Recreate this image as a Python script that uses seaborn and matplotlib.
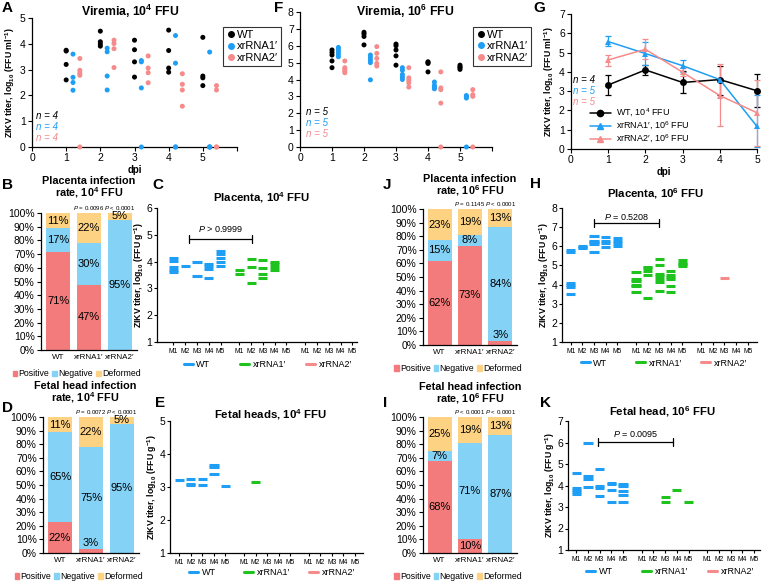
import numpy as np
import pandas as pd
import matplotlib

matplotlib.use("Agg")
import matplotlib.pyplot as plt
from matplotlib.lines import Line2D
from matplotlib.patches import Patch
from matplotlib.legend import Legend
import seaborn as sns

sns.set_theme(style="ticks")
plt.rcParams["font.family"] = ["Liberation Sans", "DejaVu Sans"]
plt.rcParams.update({
    "mathtext.fontset": "custom",
    "mathtext.rm": "Liberation Sans",
    "mathtext.it": "Liberation Sans:italic",
    "mathtext.bf": "Liberation Sans:bold",
    "text.color": "black",
    "axes.labelcolor": "black",
    "xtick.color": "black",
    "ytick.color": "black",
    "axes.edgecolor": "black",
    "axes.linewidth": 0.9,
})

# -------------------------
# Colours
# -------------------------
BLUE = "#1f9ef5"
PINK = "#f58b8b"
GREEN = "#1ec31e"
POS_C = "#f47b7b"
NEG_C = "#84d2f6"
DEF_C = "#fdd383"

GROUPS = ["WT", "xrRNA1\u2032", "xrRNA2\u2032"]
VIR_PAL = {"WT": "black", "xrRNA1\u2032": BLUE, "xrRNA2\u2032": PINK}
DASH_PAL = {"WT": BLUE, "xrRNA1\u2032": GREEN, "xrRNA2\u2032": PINK}

# -------------------------
# Data: viremia (per day lists)
# -------------------------
vir4_wt = [[3.75, 3.72, 3.2, 2.6], [4.49, 4.08, 3.99, 3.91], [4.14, 3.77, 3.3, 2.71],
           [4.53, 3.74, 3.06, 2.9], [4.25, 2.75, 2.68, 2.38]]
vir4_x1 = [[3.6, 2.7, 2.5, 2.2], [3.83, 3.69, 2.75, 2.21], [3.35, 3.3, 2.29, 0],
           [4.32, 3.25, 0, 0], [3.68, 0, 0, 0]]
vir4_x2 = [[3.43, 2.97, 2.86, 2.78, 0], [4.14, 4.01, 3.81, 3.08], [3.53, 3.06, 2.88, 2.49],
           [2.84, 2.43, 2.21, 1.58], [2.38, 2.21, 0, 0]]

vir6_wt = [[5.75, 5.6, 5.45, 5.1, 4.7], [6.8, 6.7, 6.55, 6.05], [6.1, 6.0, 5.75, 5.4, 4.85],
           [5.05, 5.0, 4.95, 4.45], [4.85, 4.75, 4.7, 4.6]]
vir6_x1 = [[5.9, 5.8, 5.65, 5.5, 5.35], [5.45, 5.3, 5.15, 5.0, 3.98], [4.7, 4.55, 4.3, 4.15, 4.0],
           [3.85, 3.65, 3.55, 3.5, 3.45], [3.05, 3.0, 2.95, 2.9, 0]]
vir6_x2 = [[5.1, 4.7, 4.6, 4.5, 4.4], [5.95, 5.55, 5.25, 4.95, 4.8], [4.7, 4.1, 3.95, 3.8, 3.55],
           [4.45, 3.5, 3.4, 2.6, 0], [3.4, 3.1, 3.0, 0]]

# mean titer with lower / upper error
g_days = [1, 2, 3, 4, 5]
g_wt_mean = [3.32, 4.1, 3.45, 3.6, 3.02]
g_wt_lo = [0.52, 0.26, 0.57, 0.78, 0.83]
g_wt_hi = [0.52, 0.26, 0.6, 0.72, 0.87]
g_x1_mean = [5.57, 4.95, 4.32, 3.6, 1.17]
g_x1_lo = [0.25, 0.6, 0.32, 0.05, 1.05]
g_x1_hi = [0.28, 0.6, 0.3, 0.05, 1.65]
g_x2_mean = [4.62, 5.17, 3.98, 2.77, 1.88]
g_x2_lo = [0.3, 0.5, 0.18, 1.6, 1.7]
g_x2_hi = [0.27, 0.52, 0.2, 1.65, 1.72]

# -------------------------
# Data: infection rates (%)
# -------------------------
BAR_CATS = ["WT", "xrRNA1\u2032", "xrRNA2\u2032"]
plac4_pos, plac4_neg, plac4_def = [71, 47, 0], [17, 30, 95], [11, 22, 5]
head4_pos, head4_neg, head4_def = [22, 3, 0], [65, 75, 95], [11, 22, 5]
plac6_pos, plac6_neg, plac6_def = [62, 73, 3], [15, 8, 84], [23, 19, 13]
head6_pos, head6_neg, head6_def = [68, 10, 0], [7, 71, 87], [25, 19, 13]
plac4_p = ["= 0.0096", "< 0.0001"]
head4_p = ["= 0.0072", "< 0.0001"]
plac6_p = ["= 0.1145", "< 0.0001"]
head6_p = ["< 0.0001", "< 0.0001"]

# -------------------------
# Data: tissue titers per mouse (M1..M5)
# -------------------------
plac4_wt = [[4.12, 4.02, 3.8, 3.7, 3.6], [3.84], [4.0, 3.46], [3.9, 3.82, 3.74, 3.37],
            [4.4, 4.29, 4.12, 4.0, 3.84]]
plac4_x1 = [[3.69, 3.54], [4.09, 3.79, 3.21], [4.05, 3.75, 3.55, 3.4], [3.98, 3.9, 3.8, 3.7], []]
plac4_x2 = [[], [], [], [], []]

head4_wt = [[3.22], [3.24, 3.1, 3.05], [3.24, 3.05], [3.67, 3.62, 3.4], [3.04]]
head4_x1 = [[], [3.14], [], [], []]
head4_x2 = [[], [], [], [], []]

plac6_wt = [[5.78, 5.7, 4.1, 4.0, 3.88, 3.5], [6.0, 5.95, 5.9], [6.55, 6.3, 6.2, 6.1, 5.7],
            [6.5, 6.3, 6.15, 5.95], [6.42, 6.28, 6.15, 6.0]]
plac6_x1 = [[4.65, 4.3, 4.2, 4.0, 3.9, 3.6], [4.92, 4.85, 4.7, 4.5, 3.3],
            [5.32, 5.0, 4.55, 4.45, 4.3, 4.15, 3.68], [4.72, 4.5, 4.4, 4.3, 3.9, 3.6],
            [5.28, 5.15, 5.05, 4.95]]
plac6_x2 = [[], [], [4.35], [], []]

head6_wt = [[4.57, 3.9, 3.8, 3.72, 3.62], [5.97, 4.45, 4.28, 3.92], [4.75, 3.98, 3.88, 3.5],
            [4.12, 4.05, 3.8, 3.25], [4.05, 3.97, 3.75, 3.58, 3.25]]
head6_x1 = [[], [], [3.47, 3.22], [3.77], [3.22]]
head6_x2 = [[], [], [], [], []]

MICE = ["M1", "M2", "M3", "M4", "M5"]
GROUP_POS = [0.0, 5.6, 11.2]

# -------------------------
# Figure helpers
# -------------------------
W, H = 763, 583
fig = plt.figure(figsize=(W / 100, H / 100), dpi=100)


def add_ax(l, t, r, b):
    return fig.add_axes([l / W, 1 - b / H, (r - l) / W, (b - t) / H])


def ftext(x, y, s, **kw):
    fig.text(x / W, 1 - y / H, s, **kw)


def finish(ax, fs=7.5):
    sns.despine(ax=ax)
    ax.tick_params(length=3, width=0.8, labelsize=fs, pad=1.5)
    ax.set_xlabel("")
    ax.set_ylabel("")


YLAB_ML = r"ZIKV titer, log$_{\mathbf{10}}$ (FFU ml$^{\mathbf{-1}}$)"
YLAB_G = r"ZIKV titer, log$_{\mathbf{10}}$ (FFU g$^{\mathbf{-1}}$)"


def viremia(ax, vals, ymax, ns, leg_xy, n_xy):
    rows = []
    for g, v, off in zip(GROUPS, vals, [0, 0.2, 0.4]):
        for d, dv in enumerate(v, start=1):
            rows += [(g, d + off, y) for y in dv]
    df = pd.DataFrame(rows, columns=["group", "dpi", "titer"])
    sns.scatterplot(data=df, x="dpi", y="titer", hue="group", hue_order=GROUPS,
                    palette=VIR_PAL, s=13, linewidth=0, legend=False,
                    clip_on=False, zorder=3, ax=ax)
    ax.set_xlim(0, 6)
    ax.set_ylim(0, ymax)
    ax.set_xticks(range(7))
    ax.set_xticklabels([str(i) for i in range(6)] + [""])
    ax.set_yticks(range(ymax + 1))
    finish(ax)
    handles = [Line2D([], [], marker="o", ls="", color=VIR_PAL[g], markersize=4, label=g)
               for g in GROUPS]
    leg = ax.legend(handles=handles, loc="upper left", bbox_to_anchor=leg_xy,
                    frameon=True, fancybox=False, edgecolor="black", fontsize=8,
                    handletextpad=0.05, handlelength=1.0, borderpad=0.25,
                    labelspacing=0.15, borderaxespad=0)
    leg.get_frame().set_linewidth(0.8)
    step = 11.0 / (ax.get_position().height * H)
    for i, (n, g) in enumerate(zip(ns, GROUPS)):
        ax.text(n_xy[0], n_xy[1] - i * step, f"n = {n}", color=VIR_PAL[g],
                transform=ax.transAxes, fontsize=7, va="center", style="italic")


def bars(ax, pos, neg, dfm, pvals):
    pos, neg, dfm = (np.array(a, float) for a in (pos, neg, dfm))
    tot = pos + neg + dfm
    p, n, d = pos / tot * 100, neg / tot * 100, dfm / tot * 100
    for h, c in [(p + n + d, DEF_C), (p + n, NEG_C), (p, POS_C)]:
        sns.barplot(x=BAR_CATS, y=h, color=c, width=0.8, saturation=1,
                    linewidth=0, errorbar=None, ax=ax)
    for i in range(3):
        for b, h, lab in [(0, p[i], pos[i]), (p[i], n[i], neg[i]), (p[i] + n[i], d[i], dfm[i])]:
            if lab == 0:
                continue
            y = b + h / 2 if h >= 4.5 else b + h + 4
            ax.text(i, y, f"{lab:g}%", ha="center", va="center", fontsize=8)
    for i, pv in zip([1, 2], pvals):
        ax.text(i, 104, rf"$\it{{P}}$ {pv}", ha="center", va="center", fontsize=4.4,
                clip_on=False)
    ax.set_xlim(-0.55, 2.55)
    ax.set_ylim(0, 100)
    ax.set_yticks(range(0, 101, 10))
    ax.set_yticklabels([f"{t}%" for t in range(0, 101, 10)])
    finish(ax)
    ax.tick_params(axis="x", length=0, labelsize=5.8, pad=3)
    ax.tick_params(axis="y", labelsize=7.5)
    handles = [Patch(color=POS_C, label="Positive"), Patch(color=NEG_C, label="Negative"),
               Patch(color=DEF_C, label="Deformed")]
    ax.legend(handles=handles, loc="center", bbox_to_anchor=(0.37, -0.175), ncol=3,
              frameon=False, fontsize=6.3, handlelength=0.55, handleheight=0.6,
              handletextpad=0.12, columnspacing=0.35, borderaxespad=0, borderpad=0)


def dashes(ax, vals, ylim, xlim, bracket, ptext, lab_y):
    rows = []
    for g, v, base in zip(GROUPS, vals, GROUP_POS):
        for m, mv in enumerate(v):
            rows += [(g, base + m, y) for y in mv]
    df = pd.DataFrame(rows, columns=["group", "pos", "titer"])
    sns.scatterplot(data=df, x="pos", y="titer", hue="group", hue_order=GROUPS,
                    palette=DASH_PAL, marker="_", s=44, linewidth=2.2, legend=False, ax=ax)
    ticks = [b + m for b in GROUP_POS for m in range(5)]
    ax.set_xticks(ticks)
    ax.set_xticklabels(MICE * 3)
    ax.set_xlim(*xlim)
    ax.set_ylim(*ylim)
    ax.set_yticks(range(ylim[0], ylim[1] + 1))
    finish(ax)
    ax.tick_params(axis="x", labelsize=4.9, length=2.5, pad=2)
    ax.tick_params(axis="y", labelsize=7.5, length=2.5, pad=1)
    if bracket is not None:
        x1, x2, yb, yt = bracket
        tick = (ylim[1] - ylim[0]) * 0.03
        ax.plot([x1, x2], [yb, yb], color="black", lw=0.9)
        for xx in (x1, x2):
            ax.plot([xx, xx], [yb - tick, yb + tick], color="black", lw=0.9)
        ax.text((x1 + x2) / 2, yt, rf"$\it{{P}}$ {ptext}", ha="center", va="center",
                fontsize=6.5)
    for g, base in zip(GROUPS, GROUP_POS):
        leg = Legend(ax, [Line2D([], [], color=DASH_PAL[g], lw=2.2)], [g], loc="center",
                     bbox_to_anchor=(base + 2, lab_y), bbox_transform=ax.get_xaxis_transform(),
                     frameon=False, fontsize=6.5, handlelength=1.0, handletextpad=0.4,
                     borderpad=0, borderaxespad=0)
        ax.add_artist(leg)
    ax.set_ylabel(YLAB_G, fontsize=6.3, fontweight="bold", labelpad=0.5)


# -------------------------
# A / F: viremia scatter
# -------------------------
axA = add_ax(32, 18, 237, 147)
viremia(axA, [vir4_wt, vir4_x1, vir4_x2], 5, [4, 4, 4], (0.93, 0.93), (0.02, 0.24))
axA.set_ylabel(YLAB_ML, fontsize=6.3, fontweight="bold", labelpad=2)
axA.set_xlabel("dpi", fontsize=7, fontweight="bold", labelpad=1)

axF = add_ax(300, 12, 492, 147)
viremia(axF, [vir6_wt, vir6_x1, vir6_x2], 8, [5, 5, 5], (0.9, 0.89), (0.03, 0.26))

# -------------------------
# G: mean viremia
# -------------------------
axG = add_ax(571, 14, 757, 149)
g_labels = [r"WT, 10$^4$ FFU", "xrRNA1\u2032, 10$^6$ FFU", "xrRNA2\u2032, 10$^6$ FFU"]
g_df = pd.DataFrame({
    "dpi": g_days * 3,
    "titer": g_wt_mean + g_x1_mean + g_x2_mean,
    "group": sum([[l] * 5 for l in g_labels], []),
})
g_cols = ["black", BLUE, PINK]
for mean, lo, hi, c in zip([g_wt_mean, g_x1_mean, g_x2_mean], [g_wt_lo, g_x1_lo, g_x2_lo],
                           [g_wt_hi, g_x1_hi, g_x2_hi], g_cols):
    axG.errorbar(g_days, mean, yerr=[lo, hi], fmt="none", ecolor=c, elinewidth=0.9,
                 capsize=2.5, capthick=0.9, clip_on=False, zorder=2)
sns.lineplot(data=g_df, x="dpi", y="titer", hue="group", style="group", hue_order=g_labels,
             palette=g_cols, markers=["o", "^", "^"], dashes=False, markersize=5,
             markeredgewidth=0, linewidth=1.1, legend=False, ax=axG, clip_on=False, zorder=3)
axG.set_xlim(0, 5)
axG.set_ylim(0, 7)
axG.set_xticks(range(6))
axG.set_yticks(range(8))
finish(axG)
axG.set_ylabel(YLAB_ML, fontsize=6.3, fontweight="bold", labelpad=2)
axG.set_xlabel("dpi", fontsize=7, fontweight="bold", labelpad=1)
g_handles = [Line2D([], [], color=c, marker=m, markersize=4.5, lw=1.1, label=l)
             for c, m, l in zip(g_cols, ["o", "^", "^"], g_labels)]
axG.legend(handles=g_handles, loc="upper left", bbox_to_anchor=(0.1, 0.31), frameon=False,
           fontsize=6.5, handlelength=2.4, handletextpad=0.5, labelspacing=0.1,
           borderaxespad=0, borderpad=0)
for i, (n, c) in enumerate(zip([4, 5, 5], g_cols)):
    axG.text(0.01, 0.51 - i * 0.08, f"n = {n}", color=c, transform=axG.transAxes,
             fontsize=7, va="center", style="italic")

# -------------------------
# B / D / J / I: infection rate bars
# -------------------------
axB = add_ax(41, 213, 137, 350)
bars(axB, plac4_pos, plac4_neg, plac4_def, plac4_p)
axD = add_ax(43, 417, 139, 553)
bars(axD, head4_pos, head4_neg, head4_def, head4_p)
axJ = add_ax(423, 209, 517, 345)
bars(axJ, plac6_pos, plac6_neg, plac6_def, plac6_p)
axI = add_ax(423, 417, 517, 553)
bars(axI, head6_pos, head6_neg, head6_def, head6_p)

# -------------------------
# C / E / H / K: tissue titers
# -------------------------
axC = add_ax(157, 208, 357, 342)
dashes(axC, [plac4_wt, plac4_x1, plac4_x2], (1, 6), (-1.4, 15.6), (1.3, 6.7, 4.85, 5.2),
       "> 0.9999", -0.17)

axE = add_ax(170, 421, 363, 553)
dashes(axE, [head4_wt, head4_x1, head4_x2], (1, 5), (-0.8, 15.9), None, "", -0.15)

axH = add_ax(562, 208, 757, 342)
dashes(axH, [plac6_wt, plac6_x1, plac6_x2], (1, 8), (-0.75, 16.0), (2.0, 7.6, 7.22, 7.55),
       "= 0.5208", -0.157)

axK = add_ax(568, 421, 760, 550)
dashes(axK, [head6_wt, head6_x1, head6_x2], (1, 7), (-0.7, 15.7), (1.85, 8.25, 6.04, 6.38),
       "= 0.0095", -0.17)

# -------------------------
# Titles and panel letters
# -------------------------
tkw = dict(fontweight="bold", ha="center", va="center")
ftext(130, 11, r"Viremia, 10$^{\mathbf{4}}$ FFU", fontsize=8.8, **tkw)
ftext(405, 11, r"Viremia, 10$^{\mathbf{6}}$ FFU", fontsize=8.8, **tkw)
ftext(89, 188, "Placenta infection\n" + r"rate, 10$^{\mathbf{4}}$ FFU", linespacing=0.95,
      fontsize=7.8, **tkw)
ftext(262, 198, r"Placenta, 10$^{\mathbf{4}}$ FFU", fontsize=8.2, **tkw)
ftext(470, 186, "Placenta infection\n" + r"rate, 10$^{\mathbf{6}}$ FFU", linespacing=0.95,
      fontsize=7.8, **tkw)
ftext(656, 194, r"Placenta, 10$^{\mathbf{6}}$ FFU", fontsize=8.2, **tkw)
ftext(85, 393, "Fetal head infection\n" + r"rate, 10$^{\mathbf{4}}$ FFU", linespacing=0.95,
      fontsize=7.8, **tkw)
ftext(270, 415, r"Fetal heads, 10$^{\mathbf{4}}$ FFU", fontsize=8.2, **tkw)
ftext(470, 394, "Fetal head infection\n" + r"rate, 10$^{\mathbf{6}}$ FFU", linespacing=0.95,
      fontsize=7.8, **tkw)
ftext(662, 412, r"Fetal head, 10$^{\mathbf{6}}$ FFU", fontsize=8.2, **tkw)

lkw = dict(fontsize=11, fontweight="bold", ha="left", va="center")
for letter, x, y in [("A", 2, 8), ("F", 274, 8), ("G", 533, 8), ("B", 2, 185), ("C", 152, 185),
                     ("J", 383, 185), ("H", 530, 184), ("D", 2, 408), ("E", 155, 403),
                     ("I", 383, 403), ("K", 540, 403)]:
    ftext(x, y, letter, **lkw)

fig.savefig("out.png", dpi=100)
